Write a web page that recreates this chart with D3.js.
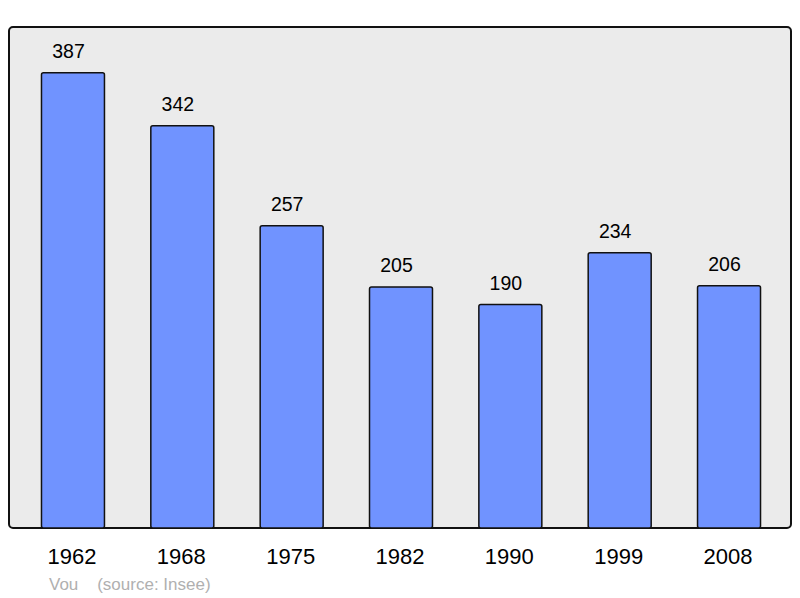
<!DOCTYPE html>
<html><head><meta charset="utf-8">
<script src="https://cdn.jsdelivr.net/npm/d3@7"></script>
<style>body{margin:0;background:#fff}svg{display:block}</style>
</head><body>
<script>
const years = ["1962","1968","1975","1982","1990","1999","2008"];
const population = [387,342,257,205,190,234,206];
const commune = "Vou";
const source = "(source: Insee)";

const W=800,H=598;
const svg=d3.select("body").append("svg").attr("width",W).attr("height",H);
const box={x0:9,y0:27,x1:791,y1:528};
svg.append("rect").attr("x",box.x0).attr("y",box.y0).attr("width",box.x1-box.x0).attr("height",box.y1-box.y0)
  .attr("rx",4).attr("fill","#ebebeb").attr("stroke","#111").attr("stroke-width",2);
const x=d3.scaleBand().domain(years).range([18.3,783.7]).paddingInner(0.424).paddingOuter(0.212);
const y=d3.scaleLinear().domain([0,426]).range([box.y1,box.y0]);
const g=svg.append("g");
g.selectAll("rect.bar").data(years).join("rect").attr("class","bar")
  .attr("x",d=>x(d)).attr("width",x.bandwidth())
  .attr("y",(d,i)=>y(population[i])).attr("height",(d,i)=>box.y1-y(population[i]))
  .attr("rx",2).attr("fill","#7093ff").attr("stroke","#111").attr("stroke-width",1.5);
g.selectAll("text.val").data(years).join("text").attr("class","val")
  .attr("x",d=>x(d)+x.bandwidth()/2-4.5).attr("y",(d,i)=>y(population[i])-14.5)
  .attr("text-anchor","middle").attr("font-family","Liberation Sans, Arial, sans-serif").attr("font-size",19.5).attr("fill","#000")
  .text((d,i)=>population[i]);
const ax=svg.append("g").attr("transform",`translate(0,${box.y1})`).call(d3.axisBottom(x).tickSize(0).tickPadding(20));
ax.select(".domain").remove();
ax.selectAll("text").attr("font-family","Liberation Sans, Arial, sans-serif").attr("font-size",22).attr("fill","#000").attr("dy","0.71em").attr("dx",-1);
svg.append("text").attr("x",49).attr("y",590).attr("font-family","Liberation Sans, Arial, sans-serif").attr("font-size",17).attr("fill","#b0b0b0").attr("xml:space","preserve")
  .text(commune+"    "+source);
</script>
</body></html>
